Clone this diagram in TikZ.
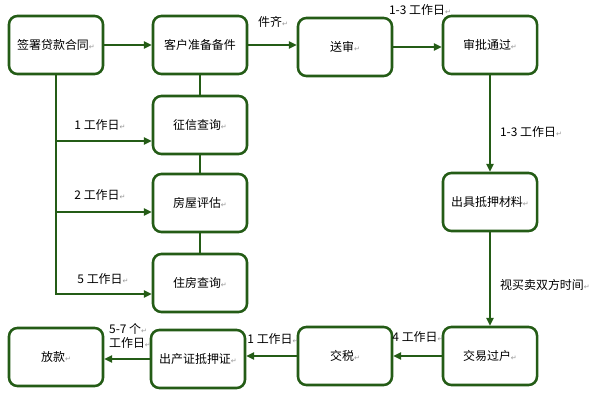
\documentclass[tikz,border=0pt]{standalone}
\usepackage{fontspec}
\setmainfont{Noto Sans CJK SC}
\newfontfamily\symfont{DejaVu Sans}
\usetikzlibrary{arrows.meta,positioning,calc}
\definecolor{boxgreen}{RGB}{36,92,22}
\definecolor{markgray}{RGB}{150,150,150}
\newcommand{\pmark}{{\symfont\fontsize{5}{6}\selectfont\textcolor{markgray}{↵}}}

\begin{document}
\begin{tikzpicture}[x=0.025cm, y=-0.025cm,
  every node/.style={font=\fontsize{8.5}{10.5}\selectfont},
  step box/.style={rounded corners=6pt, draw=boxgreen, line width=1.8pt, minimum width=2.35cm, minimum height=1.45cm, align=center, fill=white},
  arr/.style={-{Triangle[length=5.5pt,width=5pt]}, boxgreen, line width=1.8pt},
  lnk/.style={boxgreen, line width=1.8pt},
  lbl/.style={inner sep=1pt, align=left},
]
\useasboundingbox (0,0) rectangle (600,400);
% top row
\node[step box] (sign) at (56,45) {签署贷款合同\pmark};
\node[step box] (prep) at (200,45) {客户准备备件};
\node[step box] (submit) at (345,47) {送审\pmark};
\node[step box] (approve) at (490,45) {审批通过\pmark};
% checks
\node[step box] (credit) at (200,125) {征信查询\pmark};
\node[step box] (assess) at (200,203) {房屋评估\pmark};
\node[step box] (housing) at (200,283) {住房查询\pmark};
% right column
\node[step box] (mortgage) at (490,202) {出具抵押材料\pmark};
\node[step box] (transfer) at (490,356) {交易过户\pmark};
% bottom row
\node[step box] (tax) at (345,356) {交税\pmark};
\node[step box] (cert) at (198,359) {出产证抵押证\pmark};
\node[step box] (loan) at (56,357) {放款\pmark};
% plain links
\draw[lnk] (prep) -- (credit);
\draw[lnk] (credit) -- (assess);
\draw[lnk] (assess) -- (housing);
% branches
\draw[arr] (sign.south) |- ($(credit.west)+(0,16)$);
\draw[arr] (sign.south) |- ($(assess.west)+(0,9)$);
\draw[arr] (sign.south) |- ($(housing.west)+(0,11)$);
\node[lbl] at (100,125) {1 工作日\pmark};
\node[lbl] at (100,195) {2 工作日\pmark};
\node[lbl] at (103,279) {5 工作日\pmark};
% main flow
\draw[arr] (sign) -- (prep);
\draw[arr] (prep) -- (prep -| submit.west);
\node[lbl] at (273,22) {件齐\pmark};
\draw[arr] (submit) -- (submit -| approve.west);
\node[lbl] at (420,10) {1-3 工作日\pmark};
\draw[arr] (approve) -- (mortgage);
\node[lbl] at (531,132) {1-3 工作日\pmark};
\draw[arr] (mortgage) -- (transfer);
\node[lbl] at (545,285) {视买卖双方时间\pmark};
\draw[arr] (transfer) -- (tax);
\node[lbl] at (418,337) {4 工作日\pmark};
\draw[arr] (tax) -- (tax -| cert.east);
\node[lbl] at (273,339) {1 工作日\pmark};
\draw[arr] (cert) -- (cert -| loan.east);
\node[lbl] at (130,336) {5-7 个\pmark\\工作日\pmark};
\end{tikzpicture}
\end{document}
